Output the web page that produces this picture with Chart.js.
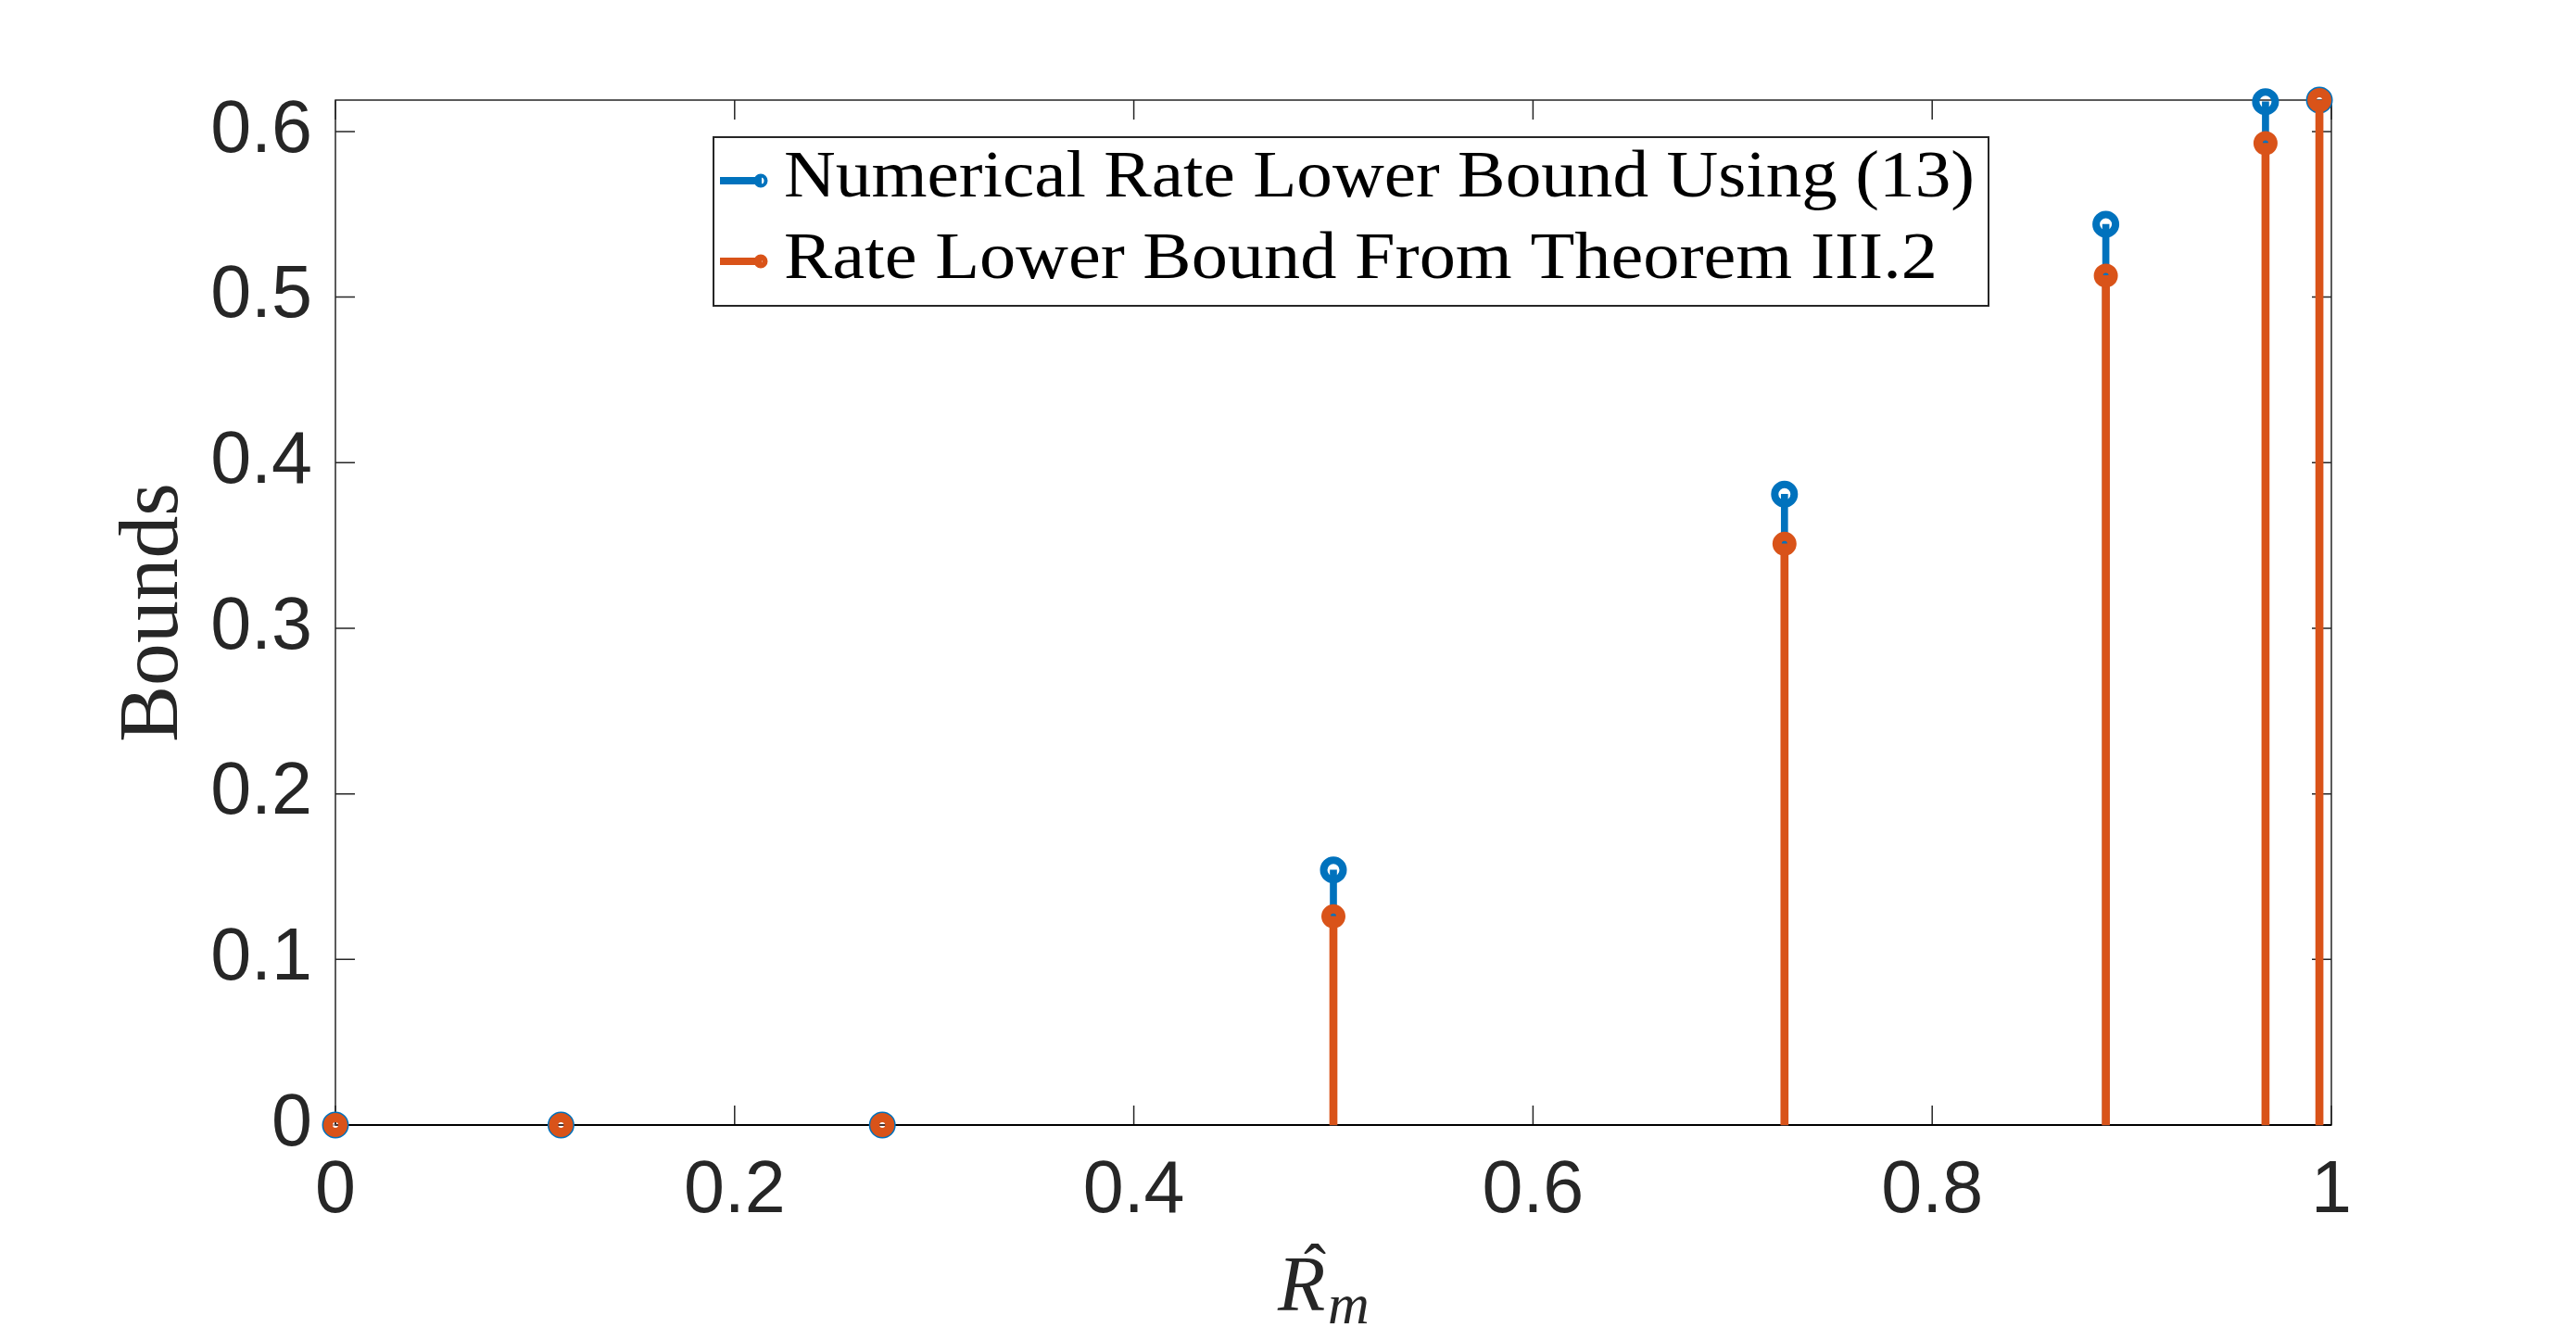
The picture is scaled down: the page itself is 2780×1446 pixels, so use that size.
<!DOCTYPE html>
<html>
<head>
<meta charset="utf-8">
<script src="https://cdn.jsdelivr.net/npm/chart.js@4/dist/chart.umd.min.js"></script>
<style>
  html, body { margin: 0; padding: 0; background: #fff; }
  canvas { display: block; }
</style>
</head>
<body>
<canvas id="stem" width="2780" height="1446"></canvas>
<script>
// ---- values ----
const rHat = [0, 0.113, 0.274, 0.5, 0.726, 0.887, 0.967, 0.994];
const numericalBound = [0, 0, 0, 0.154, 0.381, 0.544, 0.618, 0.619];
const theoremBound = [0, 0, 0, 0.126, 0.351, 0.513, 0.593, 0.619];
const xTickValues = [0, 0.2, 0.4, 0.6, 0.8, 1];
const yTickValues = [0, 0.1, 0.2, 0.3, 0.4, 0.5, 0.6];
const seriesLabels = ['Numerical Rate Lower Bound Using (13)', 'Rate Lower Bound From Theorem III.2'];

const BLUE = '#0072BD';
const ORANGE = '#D95319';
const AXIS = '#262626';
const TICK_LEN = 21;

const pts = vals => rHat.map((x, i) => ({ x, y: vals[i] }));

// text squeezed/stretched to a given width (LaTeX fonts are wider than Times)
function fitText(ctx, text, x, y, width) {
  const w = ctx.measureText(text).width;
  ctx.save();
  ctx.translate(x, y);
  ctx.scale(width / w, 1);
  ctx.fillText(text, 0, 0);
  ctx.restore();
}

// ---------------- axes box, inward ticks, baseline ----------------
const matlabAxes = {
  id: 'matlabAxes',
  beforeDatasetsDraw(chart) {
    const { ctx, chartArea: a, scales: { x, y } } = chart;
    ctx.save();
    ctx.strokeStyle = AXIS;
    ctx.lineWidth = 1.5;
    ctx.strokeRect(a.left, a.top, a.right - a.left, a.bottom - a.top);
    ctx.beginPath();
    xTickValues.forEach(v => {
      const px = x.getPixelForValue(v);
      ctx.moveTo(px, a.bottom); ctx.lineTo(px, a.bottom - TICK_LEN);
      ctx.moveTo(px, a.top); ctx.lineTo(px, a.top + TICK_LEN);
    });
    yTickValues.forEach(v => {
      const py = y.getPixelForValue(v);
      ctx.moveTo(a.left, py); ctx.lineTo(a.left + TICK_LEN, py);
      ctx.moveTo(a.right, py); ctx.lineTo(a.right - TICK_LEN, py);
    });
    ctx.stroke();

    // stem baseline
    const y0 = y.getPixelForValue(0);
    ctx.strokeStyle = '#000';
    ctx.lineWidth = 2;
    ctx.beginPath();
    ctx.moveTo(x.getPixelForValue(0), y0);
    ctx.lineTo(x.getPixelForValue(1), y0);
    ctx.stroke();
    ctx.restore();
  },

  afterDraw(chart) {
    const { ctx, chartArea: a } = chart;
    ctx.save();

    // y title
    ctx.fillStyle = AXIS;
    ctx.font = '92px "Liberation Serif"';
    ctx.textAlign = 'left';
    ctx.textBaseline = 'alphabetic';
    ctx.save();
    ctx.translate(a.left - 171, (a.top + a.bottom) / 2);
    ctx.rotate(-Math.PI / 2);
    fitText(ctx, 'Bounds', -140, 0, 280);
    ctx.restore();

    // x title: R hat sub m
    const cx = (a.left + a.right) / 2;
    const by = a.bottom + 200;
    ctx.font = 'italic 84px "Liberation Serif"';
    ctx.fillText('R', cx - 60, by);
    ctx.font = 'italic 62px "Liberation Serif"';
    ctx.fillText('m', cx - 6, by + 14);
    ctx.font = '72px "Liberation Serif"';
    ctx.textAlign = 'center';
    ctx.fillText('\u02C6', cx - 20, by - 22);

    // legend
    const lx = a.left + 408, ly = a.top + 40, lw = 1376, lh = 182;
    ctx.fillStyle = '#fff';
    ctx.fillRect(lx, ly, lw, lh);
    ctx.strokeStyle = AXIS;
    ctx.lineWidth = 2;
    ctx.strokeRect(lx, ly, lw, lh);

    const rows = chart.data.datasets.filter(d => d.type === 'scatter');
    const textWidths = [1285, 1245];
    rows.forEach((d, i) => {
      const rowY = ly + 47 + i * 87;
      ctx.strokeStyle = d.pointBorderColor;
      ctx.lineWidth = 8;
      ctx.beginPath();
      ctx.moveTo(lx + 7, rowY);
      ctx.lineTo(lx + 52, rowY);
      ctx.stroke();
      ctx.lineWidth = i === 0 ? 4 : 6;
      ctx.beginPath();
      ctx.arc(lx + 51, rowY, i === 0 ? 5.5 : 4.5, 0, Math.PI * 2);
      ctx.stroke();

      ctx.fillStyle = '#000';
      ctx.font = '71px "Liberation Serif"';
      ctx.textAlign = 'left';
      fitText(ctx, d.label, lx + 76, ly + 64 + i * 88, textWidths[i]);
    });
    ctx.restore();
  }
};

const ctx = document.getElementById('stem').getContext('2d');

new Chart(ctx, {
  type: 'scatter',
  data: {
    datasets: [
      {
        type: 'bar', label: 'stem1', data: pts(numericalBound),
        backgroundColor: BLUE, borderWidth: 0, barThickness: 7,
        grouped: false, order: 4, clip: false
      },
      {
        type: 'scatter', label: seriesLabels[0], data: pts(numericalBound),
        pointStyle: 'circle', pointRadius: 10.5, pointBorderWidth: 8,
        pointBorderColor: BLUE, pointBackgroundColor: 'rgba(0,0,0,0)',
        showLine: false, order: 3, clip: false
      },
      {
        type: 'bar', label: 'stem2', data: pts(theoremBound),
        backgroundColor: ORANGE, borderWidth: 0, barThickness: 8,
        grouped: false, order: 2, clip: false
      },
      {
        type: 'scatter', label: seriesLabels[1], data: pts(theoremBound),
        pointStyle: 'circle', pointRadius: 8, pointBorderWidth: 10,
        pointBorderColor: ORANGE, pointBackgroundColor: 'rgba(0,0,0,0)',
        showLine: false, order: 1, clip: false
      }
    ]
  },
  options: {
    responsive: false,
    animation: false,
    devicePixelRatio: 1,
    events: [],
    layout: { padding: { left: 0, right: 264, top: 108, bottom: 0 } },
    plugins: {
      legend: { display: false },
      tooltip: { enabled: false },
      title: { display: false }
    },
    scales: {
      x: {
        type: 'linear', min: 0, max: 1, offset: false,
        grid: { display: false, drawTicks: false },
        border: { display: false },
        afterBuildTicks: s => { s.ticks = xTickValues.map(v => ({ value: v })); },
        afterFit: s => { s.height = 232; },
        ticks: {
          padding: 25, color: AXIS, maxRotation: 0, autoSkip: false,
          font: { family: 'Liberation Sans', size: 79 },
          callback: v => String(+v.toFixed(1))
        }
      },
      y: {
        type: 'linear', min: 0, max: 0.619,
        grid: { display: false, drawTicks: false },
        border: { display: false },
        afterBuildTicks: s => { s.ticks = yTickValues.map(v => ({ value: v })); },
        afterFit: s => { s.width = 362; },
        ticks: {
          padding: 25, color: AXIS, autoSkip: false,
          font: { family: 'Liberation Sans', size: 79 },
          callback: v => String(+v.toFixed(1))
        }
      }
    }
  },
  plugins: [matlabAxes]
});
</script>
</body>
</html>
